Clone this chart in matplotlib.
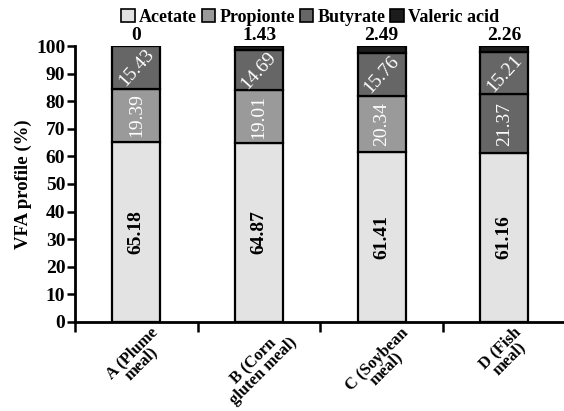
import matplotlib
matplotlib.use("Agg")
import matplotlib.pyplot as plt
import numpy as np
from matplotlib.patches import Patch

categorias = ["A (Plume\nmeal)", "B (Corn\ngluten meal)", "C (Soybean\nmeal)", "D (Fish\nmeal)"]
acetato = [65.18, 64.87, 61.41, 61.16]
propionato = [19.39, 19.01, 20.34, 21.37]
butirato = [15.43, 14.69, 15.76, 15.21]
valerico = [0, 1.43, 2.49, 2.26]
valerico_txt = ["0", "1.43", "2.49", "2.26"]
series = ["Acetate", "Propionte", "Butyrate", "Valeric acid"]
yticks = np.arange(0, 101, 10)

c_acet = "#e3e3e3"
c_prop = "#9a9a9a"
c_but = "#666666"
c_val = "#1c1c1c"
# en el original la barra D tiene el propionato en gris oscuro
c_prop_barras = [c_prop, c_prop, c_prop, c_but]

plt.rcParams["font.family"] = ["Liberation Serif", "DejaVu Serif"]
plt.rcParams["font.weight"] = "bold"

fig = plt.figure(figsize=(5.64, 4.11), dpi=100)
ax = fig.add_axes([0.133, 0.217, 0.870, 0.671])

x = np.arange(len(categorias))
w = 0.39
kw = dict(width=w, edgecolor="black", linewidth=1.6)
ax.bar(x, acetato, color=c_acet, **kw)
b1 = np.array(acetato)
ax.bar(x, propionato, bottom=b1, color=c_prop_barras, **kw)
b2 = b1 + np.array(propionato)
ax.bar(x, butirato, bottom=b2, color=c_but, **kw)
b3 = b2 + np.array(butirato)
for i in range(len(x)):
    if valerico[i] > 0:
        ax.bar(x[i], valerico[i], bottom=b3[i], color=c_val, **kw)

for i in range(len(x)):
    ax.text(x[i], acetato[i] / 2, f"{acetato[i]:.2f}", rotation=90, ha="center", va="center",
            fontsize=14, color="black", fontweight="bold")
    ax.text(x[i], b1[i] + propionato[i] / 2, f"{propionato[i]:.2f}", rotation=90, ha="center",
            va="center", fontsize=14, color="white", fontweight="normal")
    ax.text(x[i], b2[i] + butirato[i] / 2, f"{butirato[i]:.2f}", rotation=48, ha="center",
            va="center", fontsize=14, color="white", fontweight="normal")
    ax.text(x[i], b3[i] + valerico[i] + 0.8, valerico_txt[i], ha="center", va="bottom",
            fontsize=14, color="black", fontweight="bold")

ax.set_xlim(-0.5, 3.5)
ax.set_ylim(0, 100)
ax.set_yticks(yticks)
ax.set_yticklabels([str(v) for v in yticks], fontsize=14, fontweight="bold")
ax.set_xticks(x)
ax.set_xticklabels(categorias, rotation=45, ha="center", fontsize=12, fontweight="bold",
                   multialignment="center", linespacing=0.8)
ax.set_xticks(np.arange(-0.5, 3.0, 1.0), minor=True)
ax.tick_params(axis="x", which="major", length=0, pad=2)
ax.tick_params(axis="x", which="minor", length=7, width=1.8, direction="out")
ax.tick_params(axis="y", length=6, width=1.8, direction="out", pad=1)
ax.set_ylabel("VFA profile (%)", fontsize=13.5, fontweight="bold", labelpad=3)

for s in ["top", "right"]:
    ax.spines[s].set_visible(False)
for s in ["left", "bottom"]:
    ax.spines[s].set_linewidth(2)

handles = [Patch(facecolor=c, edgecolor="black", linewidth=1.2)
           for c in [c_acet, c_prop, c_but, c_val]]
fig.legend(handles, series, loc="upper center", bbox_to_anchor=(0.55, 1.018), ncol=4,
           frameon=False, handlelength=0.75, handleheight=0.75,
           handletextpad=0.25, columnspacing=0.25, prop={"weight": "bold", "size": 13})

fig.savefig("out.png", dpi=100)
